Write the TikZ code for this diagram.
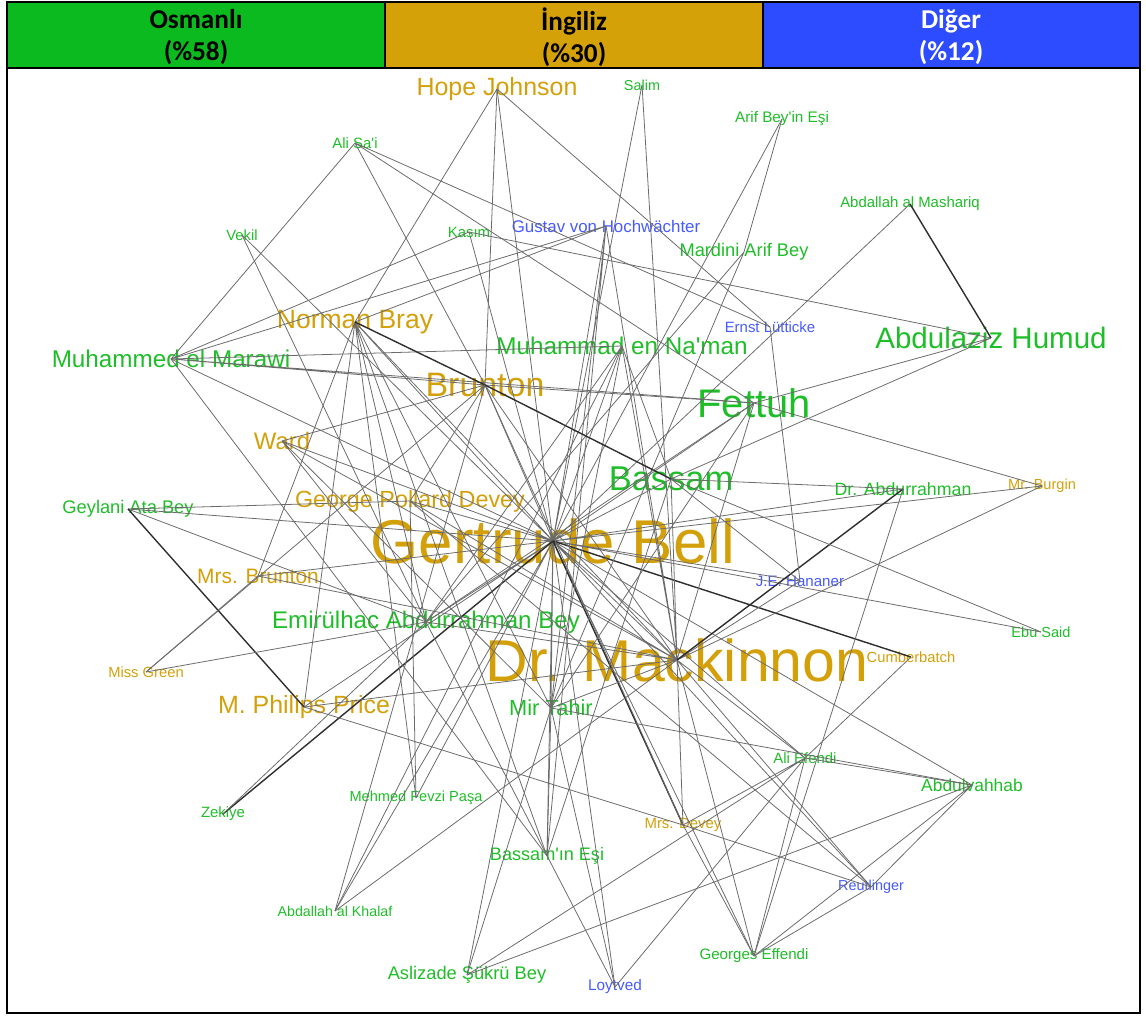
\documentclass[tikz,border=0pt]{standalone}
\usepackage{fontspec}
\setmainfont{Liberation Sans}
\newfontfamily\headfont{Carlito}
\definecolor{osmgreen}{RGB}{30,190,40}
\definecolor{inggold}{RGB}{212,160,10}
\definecolor{digblue}{RGB}{70,90,255}
\definecolor{hdrgreen}{RGB}{11,186,30}
\definecolor{hdrgold}{RGB}{212,161,8}
\definecolor{hdrblue}{RGB}{45,75,255}
\tikzset{
  osm/.style={text=osmgreen, inner sep=0pt},
  ing/.style={text=inggold, inner sep=0pt},
  dig/.style={text=digblue, inner sep=0pt},
  fs/.style={font=\fontsize{#1}{#1}\selectfont},
  link/.style={draw=black!58, line width=0.45pt},
  heavylink/.style={draw=black!82, line width=0.8pt},
  hdrtext/.style={align=center, inner sep=0pt, font=\headfont\bfseries\fontsize{15.5}{18.5}\selectfont}
}

\begin{document}
\begin{tikzpicture}[x=0.02cm, y=-0.02cm]
\useasboundingbox (0,0) rectangle (1146,1016);
% header
\filldraw[fill=hdrgreen, draw=black, line width=1pt] (7,2) rectangle (385,68);
\filldraw[fill=hdrgold, draw=black, line width=1pt] (385,2) rectangle (763,68);
\filldraw[fill=hdrblue, draw=black, line width=1pt] (763,2) rectangle (1140,68);
\node[hdrtext] (hosm) at (196,37) {Osmanlı\\(\%58)};
\node[hdrtext] (hing) at (574,37) {İngiliz\\(\%30)};
\node[hdrtext, text=white] (hdig) at (951,37) {Diğer\\(\%12)};
% frame
\draw[black, line width=1.2pt] (7,68) rectangle (1140,1013);

% people
\node[ing, fs=14.2] (hj) at (497,89) {Hope Johnson};
\node[osm, fs=8.2] (sal) at (642,85) {Salim};
\node[osm, fs=8.7] (abe) at (782,119) {Arif Bey\textquotesingle in Eşi};
\node[osm, fs=8.5] (asai) at (355,143) {Ali Sa\textquotesingle i};
\node[osm, fs=8.4] (vek) at (242,235) {Vekil};
\node[osm, fs=8.5] (kas) at (469,232) {Kasım};
\node[dig, fs=9.6] (gvh) at (606,226) {Gustav von Hochwächter};
\node[osm, fs=10.4] (mab) at (744,252) {Mardini Arif Bey};
\node[osm, fs=8.5] (mas) at (910,204) {Abdallah al Mashariq};
\node[dig, fs=8.5] (el) at (770,327) {Ernst Lütticke};
\node[ing, fs=15.1] (nb) at (355,322) {Norman Bray};
\node[osm, fs=13.8] (mem) at (171,359) {Muhammed el Marawi};
\node[osm, fs=13.8] (mnn) at (622,346) {Muhammad en Na\textquotesingle man};
\node[osm, fs=16.8] (ah) at (991,338) {Abdulaziz Humud};
\node[ing, fs=19.3] (bru) at (485,385) {Brunton};
\node[osm, fs=22.7] (fet) at (754,403) {Fettuh};
\node[ing, fs=13.6] (ward) at (282,441) {Ward};
\node[osm, fs=19.6] (bas) at (671,479) {Bassam};
\node[ing, fs=13.3] (gpd) at (410,501) {George Pollard Devey};
\node[osm, fs=10.4] (gab) at (128,509) {Geylani Ata Bey};
\node[osm, fs=10.1] (dab) at (903,489) {Dr. Abdurrahman};
\node[ing, fs=8.3] (mbu) at (1042,486) {Mr. Burgin};
\node[ing, fs=35.2] (gb) at (553,541) {Gertrude Bell};
\node[ing, fs=11.9] (mbr) at (258,576) {Mrs. Brunton};
\node[dig, fs=8.6] (jeh) at (800,581) {J.E. Hananer};
\node[osm, fs=13.7] (emi) at (426,622) {Emirülhac Abdurrahman Bey};
\node[osm, fs=8.3] (ebu) at (1041,632) {Ebu Said};
\node[ing, fs=8.4] (cum) at (911,657) {Cumberbatch};
\node[ing, fs=33.6] (dm) at (677,660) {Dr. Mackinnon};
\node[ing, fs=8.4] (mgr) at (146,672) {Miss Green};
\node[ing, fs=14.2] (mpp) at (304,707) {M. Philips Price};
\node[osm, fs=12.4] (mir) at (551,708) {Mir Tahir};
\node[osm, fs=8.5] (ali) at (805,758) {Ali Efendi};
\node[osm, fs=9.9] (abv) at (972,785) {Abdulvahhab};
\node[osm, fs=8.5] (zek) at (223,814) {Zekiye};
\node[osm, fs=8.3] (mfp) at (416,798) {Mehmed Fevzi Paşa};
\node[ing, fs=8.5] (mde) at (683,825) {Mrs. Devey};
\node[osm, fs=10.3] (bie) at (547,856) {Bassam\textquotesingle ın Eşi};
\node[dig, fs=8.2] (rsl) at (871,887) {Reutlinger};
\node[osm, fs=8.1] (akh) at (335,911) {Abdallah al Khalaf};
\node[osm, fs=8.6] (geo) at (754,956) {Georges Effendi};
\node[osm, fs=10.4] (asl) at (467,975) {Aslizade Şükrü Bey};
\node[dig, fs=8.7] (loy) at (615,987) {Loytved};

% links of Gertrude Bell
\draw[link] (gb.center) -- (hj.center) (gb.center) -- (nb.center) (gb.center) -- (bru.center)
  (gb.center) -- (bas.center) (gb.center) -- (fet.center) (gb.center) -- (mnn.center)
  (gb.center) -- (gvh.center) (gb.center) -- (abe.center) (gb.center) -- (mas.center)
  (gb.center) -- (mbu.center) (gb.center) -- (dab.center) (gb.center) -- (ebu.center)
  (gb.center) -- (jeh.center) (gb.center) -- (dm.center) (gb.center) -- (mir.center)
  (gb.center) -- (bie.center) (gb.center) -- (asl.center) (gb.center) -- (akh.center)
  (gb.center) -- (mfp.center) (gb.center) -- (mpp.center) (gb.center) -- (emi.center)
  (gb.center) -- (mbr.center) (gb.center) -- (gab.center) (gb.center) -- (gpd.center)
  (gb.center) -- (ward.center) (gb.center) -- (mem.center) (gb.center) -- (vek.center)
  (gb.center) -- (rsl.center) (gb.center) -- (abv.center) (gb.center) -- (ali.center)
  (gb.center) -- (kas.center) (gb.center) -- (geo.center) (gb.center) -- (loy.center)
  (gb.center) -- (sal.center);
\draw[heavylink] (gb.center) -- (cum.center) (gb.center) -- (zek.center) (gb.center) -- (mde.center);
% links of Dr. Mackinnon
\draw[link] (dm.center) -- (nb.center) (dm.center) -- (bru.center) (dm.center) -- (bas.center)
  (dm.center) -- (fet.center) (dm.center) -- (mnn.center) (dm.center) -- (gvh.center)
  (dm.center) -- (sal.center) (dm.center) -- (mbu.center) (dm.center) -- (jeh.center)
  (dm.center) -- (mir.center) (dm.center) -- (emi.center) (dm.center) -- (mpp.center)
  (dm.center) -- (mbr.center) (dm.center) -- (gpd.center) (dm.center) -- (akh.center)
  (dm.center) -- (ali.center) (dm.center) -- (rsl.center) (dm.center) -- (mde.center)
  (dm.center) -- (geo.center) (dm.center) -- (ward.center);
\draw[heavylink] (dm.center) -- (dab.center);
% upper part
\draw[link] (hj.center) -- (nb.center) (hj.center) -- (bru.center) (hj.center) -- (el.center);
\draw[link] (abe.center) -- (mab.center);
\draw[link] (asai.center) -- (mem.center) (asai.center) -- (bru.center)
  (asai.center) -- (fet.center) (asai.center) -- (el.center);
\draw[link] (vek.center) -- (emi.center);
\draw[link] (kas.center) -- (mem.center) (kas.center) -- (ah.center);
\draw[link] (gvh.center) -- (mem.center) (gvh.center) -- (nb.center)
  (gvh.center) -- (mir.center) (gvh.center) -- (bie.center);
\draw[link] (mab.center) -- (emi.center) (mab.center) -- (mir.center);
\draw[heavylink] (mas.center) -- (ah.center);
\draw[link] (el.center) -- (jeh.center);
\draw[link] (ah.center) -- (fet.center) (ah.center) -- (bas.center);
\draw[link] (mem.center) -- (mnn.center) (mem.center) -- (bru.center)
  (mem.center) -- (fet.center) (mem.center) -- (bie.center);
\draw[link] (nb.center) -- (mpp.center) (nb.center) -- (mfp.center) (nb.center) -- (emi.center)
  (nb.center) -- (mir.center) (nb.center) -- (bie.center) (nb.center) -- (mbr.center);
\draw[heavylink] (nb.center) -- (bru.center);
\draw[link] (mnn.center) -- (bas.center) (mnn.center) -- (mir.center)
  (mnn.center) -- (emi.center) (mnn.center) -- (akh.center);
% middle part
\draw[link] (bru.center) -- (fet.center) (bru.center) -- (mde.center) (bru.center) -- (gpd.center)
  (bru.center) -- (mgr.center) (bru.center) -- (ward.center) (bru.center) -- (akh.center);
\draw[heavylink] (bru.center) -- (bas.center);
\draw[link] (fet.center) -- (mir.center) (fet.center) -- (mbu.center) (fet.center) -- (emi.center);
\draw[link] (bas.center) -- (dab.center) (bas.center) -- (ebu.center)
  (bas.center) -- (jeh.center) (bas.center) -- (bie.center);
\draw[link] (ward.center) -- (mir.center) (ward.center) -- (emi.center);
\draw[link] (gpd.center) -- (gab.center) (gpd.center) -- (rsl.center) (gpd.center) -- (mfp.center);
\draw[link] (gab.center) -- (emi.center);
\draw[heavylink] (gab.center) -- (mpp.center);
\draw[link] (dab.center) -- (geo.center);
\draw[link] (mbr.center) -- (mgr.center);
\draw[link] (emi.center) -- (mgr.center) (emi.center) -- (zek.center) (emi.center) -- (loy.center);
\draw[link] (cum.center) -- (ali.center);
% lower part
\draw[link] (mpp.center) -- (mde.center);
\draw[link] (mir.center) -- (bie.center) (mir.center) -- (asl.center)
  (mir.center) -- (loy.center) (mir.center) -- (abv.center);
\draw[link] (ali.center) -- (abv.center) (ali.center) -- (asl.center) (ali.center) -- (geo.center)
  (ali.center) -- (mde.center) (ali.center) -- (loy.center);
\draw[link] (abv.center) -- (asl.center) (abv.center) -- (geo.center) (abv.center) -- (rsl.center);
\draw[link] (mde.center) -- (geo.center) (mde.center) -- (rsl.center);
\draw[link] (rsl.center) -- (geo.center);
\end{tikzpicture}
\end{document}
